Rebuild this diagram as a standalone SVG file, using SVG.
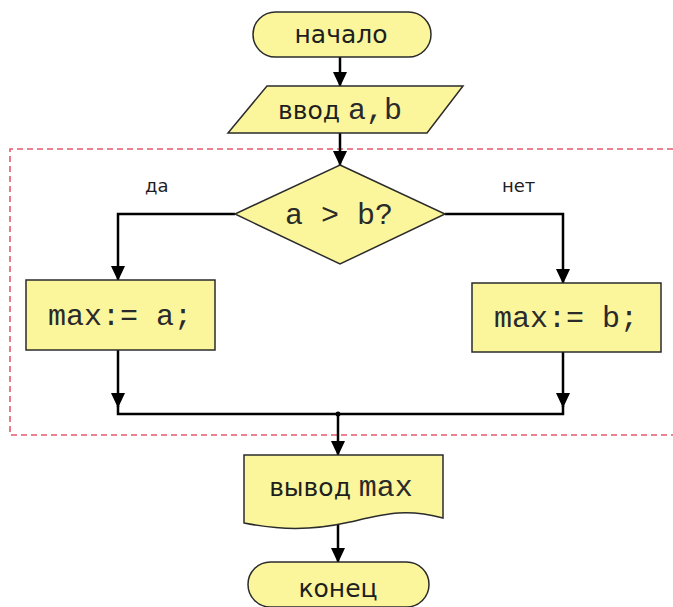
<svg xmlns="http://www.w3.org/2000/svg" width="673" height="607" viewBox="0 0 673 607">
<style>
.shape{fill:#fbf69c;stroke:#2b2b2b;stroke-width:1.5}
.conn{fill:none;stroke:#000;stroke-width:2.5}
.sans{font-family:"DejaVu Sans",Verdana,sans-serif;font-size:25px;fill:#1e1e1e}
.mono{font-family:"Liberation Mono","Courier New",monospace;font-size:30px;fill:#2a2a2a}
.lbl{font-family:"DejaVu Sans",Verdana,sans-serif;font-size:18px;fill:#1e1e1e}
</style>
<defs>
<marker id="arr" markerUnits="userSpaceOnUse" viewBox="0 0 15 14" markerWidth="15" markerHeight="14" refX="14" refY="7" orient="auto">
<path d="M0,0 L15,7 L0,14 z" fill="#000"/>
</marker>
</defs>
<rect width="673" height="607" fill="#fff"/>
<path d="M673,149 H10 V435 H673" fill="none" stroke="#e45a6c" stroke-width="1.6" stroke-dasharray="6,4"/>
<g id="connectors">
<path class="conn" d="M340,57 V86" marker-end="url(#arr)"/>
<path class="conn" d="M340,133 V165" marker-end="url(#arr)"/>
<path class="conn" d="M235,214 H118 V280" marker-end="url(#arr)"/>
<path class="conn" d="M445,214 H563 V283" marker-end="url(#arr)"/>
<path class="conn" d="M118,350 V407" marker-end="url(#arr)"/>
<path class="conn" d="M563,352 V407" marker-end="url(#arr)"/>
<path class="conn" d="M118,406 V414 H563 V406"/>
<path class="conn" d="M338,414 V455" marker-end="url(#arr)"/>
<path class="conn" d="M338,524 V562" marker-end="url(#arr)"/>
<circle cx="338" cy="414" r="2.5" fill="#000"/>
<text class="lbl" x="145" y="192">да</text>
<text class="lbl" x="502" y="192">нет</text>
</g>
<g id="start">
<rect class="shape" x="253" y="12" width="178" height="45" rx="22.5"/>
<text class="sans" x="341" y="43" text-anchor="middle">начало</text>
</g>
<g id="input">
<path class="shape" d="M267,86 H463 L427,133 H228 Z"/>
<text x="340" y="119" text-anchor="middle"><tspan class="sans">ввод </tspan><tspan class="mono">a,b</tspan></text>
</g>
<g id="decision">
<path class="shape" d="M340,165 L445,214 L340,264 L235,214 Z"/>
<text class="mono" x="339" y="224" text-anchor="middle">a &gt; b?</text>
</g>
<g id="maxa">
<rect class="shape" x="26" y="280" width="189" height="70"/>
<text class="mono" x="120" y="325" text-anchor="middle">max:= a;</text>
</g>
<g id="maxb">
<rect class="shape" x="472" y="283" width="189" height="69"/>
<text class="mono" x="566" y="327" text-anchor="middle">max:= b;</text>
</g>
<g id="output">
<path class="shape" d="M244,455 H443 V518 C405,508 385,514 350,522 C310,531 280,530 244,523 Z"/>
<text x="341" y="496" text-anchor="middle"><tspan class="sans">вывод </tspan><tspan class="mono">max</tspan></text>
</g>
<g id="end">
<rect class="shape" x="248" y="562" width="181" height="45" rx="22.5"/>
<text class="sans" x="338" y="597" text-anchor="middle">конец</text>
</g>
</svg>
